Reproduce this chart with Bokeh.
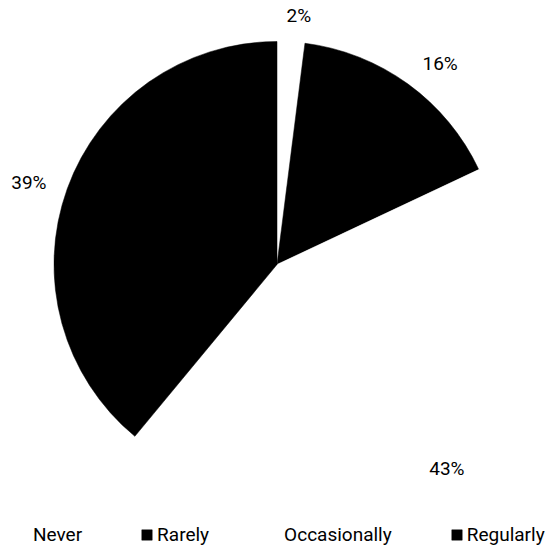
import math
from bokeh.plotting import figure
from bokeh.models import ColumnDataSource, Range1d, Legend, LegendItem
from bokeh.core.properties import value
from bokeh.embed import file_html
from bokeh.resources import INLINE

categories = ["Never", "Rarely", "Occasionally", "Regularly"]
percentages = [2, 16, 43, 39]
slice_colors = ["#ffffff", "#000000", "#ffffff", "#000000"]

W = H = 548
cx, cy = 276.5, H - 264
R = 223
LABEL_RX, LABEL_RY = 269, 253
LABEL_DX, LABEL_DY = 5, -4

total = sum(percentages)
starts, ends, lx, ly, labels = [], [], [], [], []
cum = 0.0
for v in percentages:
    a0 = math.pi / 2 - 2 * math.pi * cum / total
    cum += v
    a1 = math.pi / 2 - 2 * math.pi * cum / total
    starts.append(a0)
    ends.append(a1)
    mid = (a0 + a1) / 2
    lx.append(cx + LABEL_RX * math.cos(mid) + LABEL_DX)
    ly.append(cy + LABEL_RY * math.sin(mid) + LABEL_DY)
    labels.append(f"{v}%")

src = ColumnDataSource(dict(cat=categories, val=percentages, start=starts, end=ends,
                            color=slice_colors))
lsrc = ColumnDataSource(dict(x=lx, y=ly, t=labels))

p = figure(width=W, height=H, x_range=Range1d(0, W), y_range=Range1d(0, H),
           output_backend="svg", toolbar_location=None, min_border=0)
p.axis.visible = False
p.grid.visible = False
p.outline_line_color = None
p.background_fill_color = "white"
p.border_fill_color = "white"

r = p.wedge(x=cx, y=cy, radius=R, start_angle="start", end_angle="end",
            direction="clock", fill_color="color", line_color="color",
            line_width=0.5, source=src)

p.text(x="x", y="y", text="t", source=lsrc, text_align="center",
       text_baseline="middle", text_font=value("Roboto"),
       text_font_size="19px", text_color="#000000")

legend = Legend(items=[LegendItem(label=c, renderers=[r], index=i)
                       for i, c in enumerate(categories)],
                orientation="horizontal", location=(16, 2), margin=0, padding=0,
                spacing=58, label_standoff=4, glyph_width=13, glyph_height=13,
                label_text_font="Roboto", label_text_font_size="19px",
                label_text_color="#000000", background_fill_alpha=0,
                border_line_alpha=0)
p.add_layout(legend)

open("out.html", "w").write(file_html(p, INLINE))
